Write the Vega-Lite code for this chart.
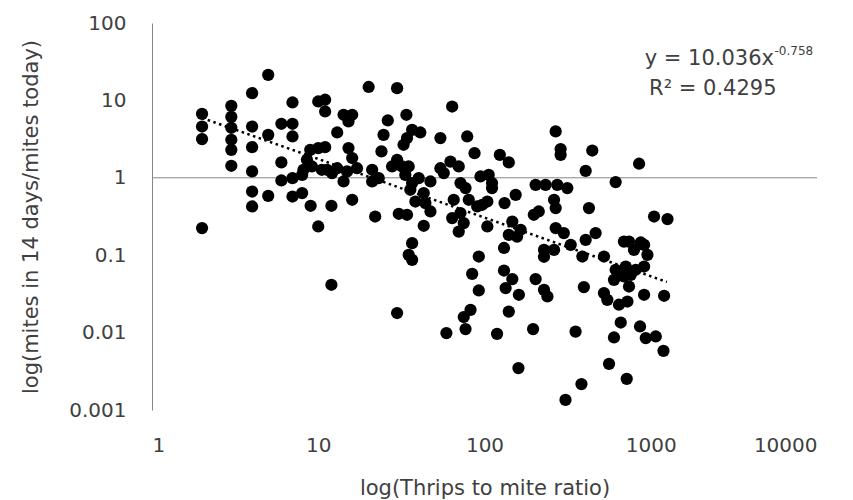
{
  "$schema": "https://vega.github.io/schema/vega-lite/v6.json",
  "width": 665,
  "height": 387,
  "autosize": "none",
  "padding": {"left": 152, "top": 23, "right": 36, "bottom": 90},
  "background": "white",
  "config": {
    "view": {"stroke": null},
    "axis": {"labelFont": "DejaVu Sans", "labelFontSize": 20, "labelColor": "#404040", "titleFont": "DejaVu Sans", "titleFontSize": 21, "titleFontWeight": "normal", "titleColor": "#404040", "grid": false, "ticks": false, "domainColor": "#868686"}
  },
  "datasets": {
    "pts": [
      {"x":5,"y":21.4},{"x":4,"y":12.4},{"x":2,"y":6.71},{"x":2,"y":4.6},{"x":2,"y":3.16},{"x":2,"y":0.224},
      {"x":3,"y":8.51},{"x":3,"y":6.14},{"x":3,"y":4.43},{"x":3,"y":3.1},{"x":3,"y":2.3},{"x":3,"y":1.43},
      {"x":4,"y":4.6},{"x":4,"y":2.49},{"x":4,"y":1.21},{"x":4,"y":0.665},{"x":4,"y":0.426},
      {"x":5,"y":3.59},{"x":5,"y":0.585},
      {"x":6,"y":4.99},{"x":6,"y":1.58},{"x":6,"y":0.923},
      {"x":7,"y":9.4},{"x":7,"y":4.99},{"x":7,"y":3.42},{"x":7,"y":0.99},{"x":7,"y":0.573},
      {"x":8,"y":0.634},{"x":9,"y":0.435},{"x":10,"y":0.235},{"x":12,"y":0.435},{"x":12,"y":0.0415},
      {"x":10,"y":9.68},{"x":11,"y":10.2},{"x":11,"y":7.19},
      {"x":14.2,"y":6.52},{"x":16,"y":6.52},{"x":15.2,"y":5.34},{"x":13,"y":3.85},
      {"x":8.95,"y":2.3},{"x":10,"y":2.42},{"x":11,"y":2.49},{"x":8.55,"y":1.71},{"x":8.15,"y":1.27},{"x":8,"y":1.09},
      {"x":9.16,"y":1.4},{"x":10.5,"y":1.27},{"x":11.3,"y":1.27},{"x":12.1,"y":1.15},{"x":13,"y":1.33},{"x":14.2,"y":0.896},
      {"x":14.9,"y":1.21},{"x":17.1,"y":1.33},{"x":16,"y":1.8},{"x":15.2,"y":2.42},{"x":16,"y":0.52},
      {"x":20.1,"y":14.9},{"x":29.8,"y":14.4},{"x":63.9,"y":8.34},{"x":26.2,"y":5.5},{"x":33.9,"y":6.52},{"x":24.7,"y":3.59},
      {"x":36.7,"y":4.17},{"x":41.1,"y":3.85},{"x":34.2,"y":3.26},{"x":32.6,"y":2.67},{"x":54.3,"y":3.26},{"x":78.7,"y":3.42},
      {"x":87.1,"y":2.08},{"x":123.7,"y":1.98},{"x":140,"y":1.58},{"x":268,"y":3.97},{"x":287,"y":2.35},{"x":287,"y":1.98},
      {"x":24,"y":2.19},{"x":21.1,"y":1.27},{"x":21.1,"y":0.896},{"x":23.1,"y":0.99},{"x":29.8,"y":1.71},{"x":27.8,"y":1.4},
      {"x":31.9,"y":1.4},{"x":35,"y":1.4},{"x":33.4,"y":1.09},{"x":36.7,"y":0.855},{"x":40.2,"y":0.99},{"x":35.8,"y":0.7},
      {"x":47.3,"y":0.896},{"x":54.3,"y":1.33},{"x":62.4,"y":1.62},{"x":70,"y":1.4},{"x":56.9,"y":1.15},{"x":71.7,"y":0.855},
      {"x":76.9,"y":0.736},{"x":94.6,"y":1.04},{"x":106,"y":1.09},{"x":111,"y":0.855},{"x":111,"y":0.736},{"x":65.3,"y":0.52},
      {"x":80.4,"y":0.52},{"x":90.4,"y":0.426},{"x":96.9,"y":0.448},{"x":104,"y":0.494},{"x":38.4,"y":0.494},{"x":43.1,"y":0.634},
      {"x":44.1,"y":0.471},{"x":47.3,"y":0.367},{"x":22,"y":0.316},{"x":30.5,"y":0.343},{"x":34.2,"y":0.333},{"x":43.1,"y":0.24},
      {"x":63.9,"y":0.302},{"x":71.7,"y":0.35},{"x":75,"y":0.26},{"x":70,"y":0.202},{"x":104,"y":0.235},{"x":132,"y":0.471},
      {"x":154,"y":0.603},{"x":203,"y":0.812},{"x":233,"y":0.812},{"x":274,"y":0.812},{"x":315,"y":0.736},{"x":262,"y":0.52},
      {"x":268,"y":0.406},{"x":198,"y":0.333},{"x":212,"y":0.367},{"x":268,"y":0.224},{"x":300,"y":0.193},{"x":147,"y":0.272},
      {"x":140,"y":0.183},{"x":157,"y":0.174},{"x":165,"y":0.213},{"x":131,"y":0.124},{"x":36.7,"y":0.143},{"x":35,"y":0.101},
      {"x":92.4,"y":0.0962},{"x":228,"y":0.117},{"x":262,"y":0.117},
      {"x":445,"y":2.25},{"x":851,"y":1.52},{"x":406,"y":1.23},{"x":615,"y":0.88},{"x":425,"y":0.406},{"x":1047,"y":0.316},
      {"x":1261,"y":0.293},{"x":406,"y":0.158},{"x":466,"y":0.193},{"x":690,"y":0.15},{"x":740,"y":0.15},{"x":871,"y":0.146},{"x":912,"y":0.136},
      {"x":36.7,"y":0.0872},{"x":84.3,"y":0.0575},{"x":92.4,"y":0.035},{"x":131,"y":0.0634},{"x":147,"y":0.0491},{"x":134,"y":0.0376},
      {"x":161,"y":0.0308},{"x":330,"y":0.136},{"x":203,"y":0.0491},{"x":228,"y":0.0357},{"x":239,"y":0.0293},{"x":29.8,"y":0.0179},
      {"x":82.4,"y":0.0197},{"x":75,"y":0.0159},{"x":76.9,"y":0.0111},{"x":59,"y":0.00986},{"x":140,"y":0.0187},{"x":119,"y":0.00964},
      {"x":196,"y":0.0111},{"x":160,"y":0.00348},{"x":307,"y":0.00135},{"x":228,"y":0.0954},
      {"x":388,"y":0.0962},{"x":523,"y":0.0962},{"x":793,"y":0.117},{"x":955,"y":0.101},{"x":912,"y":0.0714},{"x":812,"y":0.0648},
      {"x":707,"y":0.0714},{"x":615,"y":0.0648},{"x":601,"y":0.0481},{"x":690,"y":0.0531},{"x":758,"y":0.0558},{"x":740,"y":0.0394},
      {"x":396,"y":0.0387},{"x":523,"y":0.0324},{"x":548,"y":0.0265},{"x":644,"y":0.0229},{"x":724,"y":0.0252},{"x":912,"y":0.0308},
      {"x":1203,"y":0.0299},{"x":660,"y":0.0135},{"x":353,"y":0.0103},{"x":601,"y":0.00865},{"x":862,"y":0.012},{"x":933,"y":0.00849},
      {"x":1072,"y":0.00891},{"x":1193,"y":0.00582},{"x":561,"y":0.00395},{"x":717,"y":0.00253},{"x":383,"y":0.00216}
    ],
    "trend": [{"x":2,"y":5.93},{"x":1250,"y":0.0451}],
    "one": [{}]
  },
  "layer": [
    {
      "data": {"name": "one"},
      "mark": {"type": "rule", "color": "#868686", "strokeWidth": 1},
      "encoding": {"y": {"datum": 1, "type": "quantitative", "scale": {"type": "log", "domain": [0.001, 100], "nice": false}}}
    },
    {
      "data": {"name": "pts"},
      "mark": {"type": "circle", "size": 150, "color": "black", "opacity": 1},
      "encoding": {
        "x": {"field": "x", "type": "quantitative", "scale": {"type": "log", "domain": [1, 10000], "nice": false},
              "axis": {"values": [1, 10, 100, 1000, 10000], "format": "~g", "domain": false, "labelPadding": 25, "title": "log(Thrips to mite ratio)", "titlePadding": 22}},
        "y": {"field": "y", "type": "quantitative", "scale": {"type": "log", "domain": [0.001, 100], "nice": false},
              "axis": {"values": [0.001, 0.01, 0.1, 1, 10, 100], "format": "~g", "labelPadding": 26, "title": "log(mites in 14 days/mites today)", "titlePadding": 27}}
      }
    },
    {
      "data": {"name": "trend"},
      "mark": {"type": "line", "color": "black", "strokeWidth": 2.5, "strokeDash": [2.5, 3.5]},
      "encoding": {
        "x": {"field": "x", "type": "quantitative", "scale": {"type": "log", "domain": [1, 10000], "nice": false}},
        "y": {"field": "y", "type": "quantitative", "scale": {"type": "log", "domain": [0.001, 100], "nice": false}}
      }
    },
    {
      "data": {"name": "one"},
      "mark": {"type": "text", "text": "y = 10.036x", "align": "right", "baseline": "alphabetic", "font": "DejaVu Sans", "fontSize": 21, "color": "#404040"},
      "encoding": {
        "x": {"datum": 5508, "type": "quantitative", "scale": {"type": "log", "domain": [1, 10000], "nice": false}},
        "y": {"datum": 28.8, "type": "quantitative", "scale": {"type": "log", "domain": [0.001, 100], "nice": false}}
      }
    },
    {
      "data": {"name": "one"},
      "mark": {"type": "text", "text": "-0.758", "align": "left", "baseline": "alphabetic", "font": "DejaVu Sans", "fontSize": 12, "color": "#404040"},
      "encoding": {
        "x": {"datum": 5550, "type": "quantitative", "scale": {"type": "log", "domain": [1, 10000], "nice": false}},
        "y": {"datum": 38.8, "type": "quantitative", "scale": {"type": "log", "domain": [0.001, 100], "nice": false}}
      }
    },
    {
      "data": {"name": "one"},
      "mark": {"type": "text", "text": "R² = 0.4295", "align": "center", "baseline": "alphabetic", "font": "DejaVu Sans", "fontSize": 21, "color": "#404040"},
      "encoding": {
        "x": {"datum": 2362, "type": "quantitative", "scale": {"type": "log", "domain": [1, 10000], "nice": false}},
        "y": {"datum": 11.8, "type": "quantitative", "scale": {"type": "log", "domain": [0.001, 100], "nice": false}}
      }
    }
  ]
}
